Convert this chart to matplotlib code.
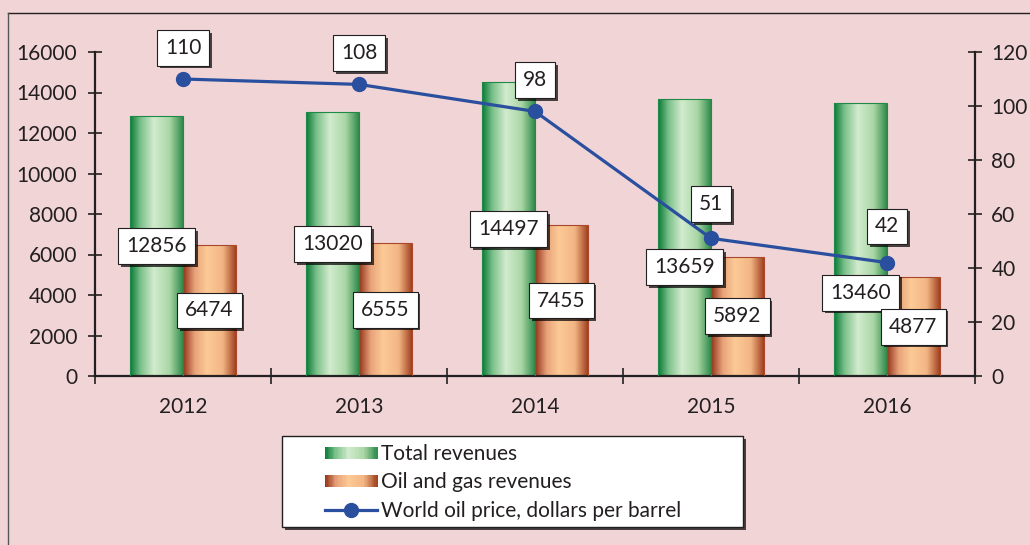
import matplotlib
matplotlib.use("Agg")
import matplotlib.pyplot as plt
import matplotlib.patheffects as pe
import numpy as np
from matplotlib.colors import LinearSegmentedColormap
from matplotlib.legend_handler import HandlerBase
from matplotlib.lines import Line2D
from matplotlib.patches import Rectangle

years = ["2012", "2013", "2014", "2015", "2016"]
total_revenues = [12856, 13020, 14497, 13659, 13460]
oil_gas_revenues = [6474, 6555, 7455, 5892, 4877]
oil_price = [110, 108, 98, 51, 42]

# where each label sits (fraction of bar height / offset above the point, in points)
total_label_frac = [0.5, 0.5, 0.5, 0.394, 0.306]
price_label_dy = [22.5, 22.5, 22.5, 24.5, 26]

BG = "#f0d4d6"
INK = "#231f20"
BLUE = "#2a4f9e"
FS = 15

green_cmap = LinearSegmentedColormap.from_list(
    "green", [(0, "#067a37"), (0.2, "#7cc08a"), (0.45, "#d2ebce"), (0.75, "#a9d6a5"), (1, "#2f8b4b")]
)
orange_cmap = LinearSegmentedColormap.from_list(
    "orange", [(0, "#943219"), (0.22, "#e7a27a"), (0.45, "#fcca96"), (0.75, "#f2b684"), (1, "#a1401f")]
)

plt.rcParams["font.family"] = ["Lato", "DejaVu Sans"]
plt.rcParams["text.color"] = INK
plt.rcParams["axes.edgecolor"] = INK
plt.rcParams["xtick.color"] = INK
plt.rcParams["ytick.color"] = INK

fig = plt.figure(figsize=(10.3, 5.45), dpi=100, facecolor=BG)
ax = fig.add_axes([95 / 1030, 1 - 376 / 545, 880 / 1030, 324 / 545])
ax.set_facecolor(BG)
ax2 = ax.twinx()

x = np.arange(len(years))
w = 0.30
grad = np.linspace(0, 1, 256)[np.newaxis, :]


def gradient_bars(bars, cmap):
    for b in bars:
        x0, y0 = b.get_x(), b.get_y()
        im = ax.imshow(grad, cmap=cmap, aspect="auto", zorder=2,
                       extent=[x0, x0 + b.get_width(), y0, y0 + b.get_height()])
        im.set_clip_path(b)


bars_t = ax.bar(x - w / 2, total_revenues, w, facecolor="none", edgecolor="#1f8a48", lw=0.8, zorder=3)
bars_o = ax.bar(x + w / 2, oil_gas_revenues, w, facecolor="none", edgecolor="#a8472a", lw=0.8, zorder=3)
gradient_bars(bars_t, green_cmap)
gradient_bars(bars_o, orange_cmap)

ax2.plot(x, oil_price, color=BLUE, lw=2.3, marker="o", ms=10, zorder=3)

ax.set_xlim(-0.5, 4.5)
ax.set_ylim(0, 16000)
ax2.set_ylim(0, 120)
ax.set_yticks(np.arange(0, 16001, 2000))
ax2.set_yticks(np.arange(0, 121, 20))
ax.set_xticks(x)
ax.set_xticklabels(years)
ax.set_xticks(np.arange(-0.5, 4.6, 1), minor=True)

for a in (ax, ax2):
    a.spines["top"].set_visible(False)
    for s in a.spines.values():
        s.set_linewidth(1.6)
ax.spines["right"].set_visible(False)
ax2.spines["left"].set_visible(False)
ax2.spines["bottom"].set_visible(False)

ax.tick_params(axis="y", direction="inout", length=9.5, width=1.2, labelsize=FS, pad=8)
ax2.tick_params(axis="y", direction="inout", length=9.5, width=1.2, labelsize=FS, pad=7)
ax.tick_params(axis="x", which="major", length=0, labelsize=FS, pad=15)
ax.tick_params(axis="x", which="minor", direction="inout", length=11, width=1.2)

shadow = [pe.withSimplePatchShadow(offset=(2, -2), shadow_rgbFace="black", alpha=0.7)]
box = dict(boxstyle="square,pad=0.38", fc="white", ec=INK, lw=0.8)


def label(xv, yv, txt, trans, dy=0):
    t = ax2.annotate(txt, (xv, yv), xycoords=trans, xytext=(0, dy), textcoords="offset points",
                     ha="center", va="center", fontsize=FS, bbox=box, zorder=5)
    t.get_bbox_patch().set_path_effects(shadow)


for b, v, f in zip(bars_t, total_revenues, total_label_frac):
    label(b.get_x() + b.get_width() / 2, v * f, str(v), ax.transData)
for b, v in zip(bars_o, oil_gas_revenues):
    label(b.get_x() + b.get_width() / 2, v / 2, str(v), ax.transData)
for xi, v, dy in zip(x, oil_price, price_label_dy):
    label(xi, v, str(v), ax2.transData, dy=dy)


class GradientHandler(HandlerBase):
    def __init__(self, cmap):
        super().__init__()
        self.cmap = cmap

    def create_artists(self, legend, orig_handle, xdescent, ydescent, width, height, fontsize, trans):
        n = 40
        return [Rectangle((-xdescent + i * width / n, -ydescent), width / n + 0.3, height,
                          facecolor=self.cmap((i + 0.5) / n), lw=0, transform=trans)
                for i in range(n)]


# legend frame
frame = Rectangle((282 / 1030, 1 - 527 / 545), 461 / 1030, 91 / 545, transform=fig.transFigure,
                  fc="white", ec=INK, lw=1.0, zorder=1)
frame.set_path_effects(shadow)
fig.add_artist(frame)

h_t = Rectangle((0, 0), 1, 1)
h_o = Rectangle((0, 0), 1, 1)
h_l = Line2D([], [], color=BLUE, lw=2.3, marker="o", ms=10)
leg = fig.legend([h_t, h_o, h_l],
                 ["Total revenues", "Oil and gas revenues", "World oil price, dollars per barrel"],
                 handler_map={h_t: GradientHandler(green_cmap), h_o: GradientHandler(orange_cmap)},
                 loc="upper left", bbox_to_anchor=(325 / 1030, 1 - 444 / 545), frameon=False,
                 borderpad=0, borderaxespad=0, fontsize=FS, handlelength=2.5, handleheight=0.5,
                 handletextpad=0.2, labelspacing=0.4)
leg.set_zorder(2)

# outer frame lines
fig.add_artist(Line2D([8 / 1030, 1], [1 - 13 / 545] * 2, transform=fig.transFigure, color=INK, lw=1.0))
fig.add_artist(Line2D([8 / 1030] * 2, [0, 1 - 13 / 545], transform=fig.transFigure, color="#555555", lw=1.0))

fig.savefig("out.png", dpi=100, facecolor=BG)
